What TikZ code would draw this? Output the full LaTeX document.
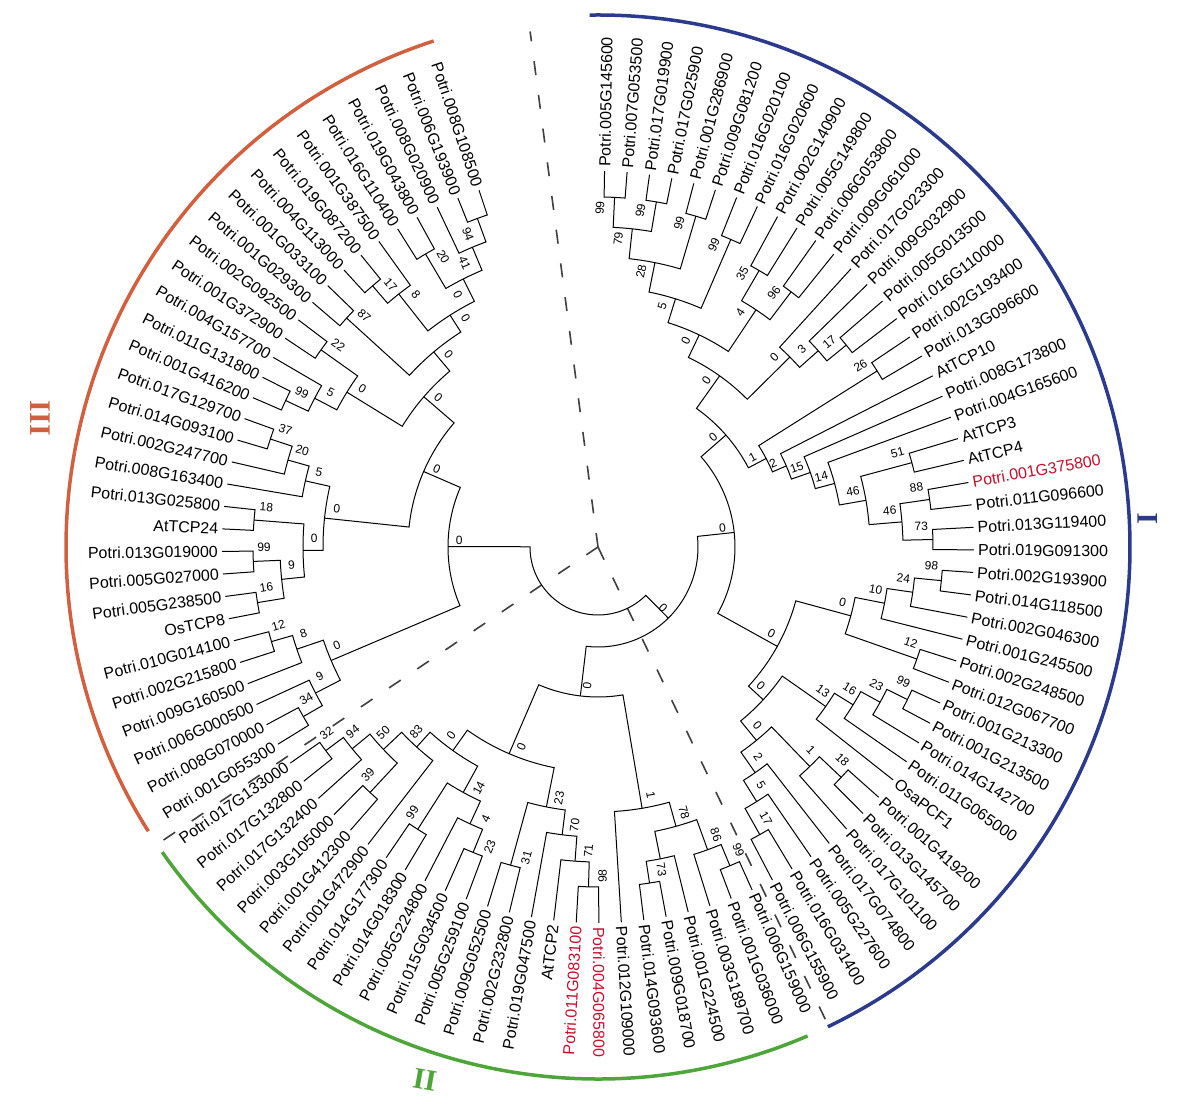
\documentclass[tikz,border=0pt]{standalone}
\usepackage{fontspec}
\setmainfont{Liberation Sans}
\newfontfamily\romanfont{Liberation Serif}
\definecolor{cI}{HTML}{2B3A8C}
\definecolor{cII}{HTML}{4EA53A}
\definecolor{cIII}{HTML}{D2603F}
\definecolor{redlab}{HTML}{C8102E}
\newcounter{bsc}
\def\LT{376}
\def\LR{380}
\newcommand\leaf[3][black]{%
 \pgfmathsetmacro\myA{89-(#2-1)*3.44}%
 \pgfmathtruncatemacro\isleft{cos(\myA)<0}%
 \ifnum\isleft=1
   \pgfmathsetmacro\rt{\myA+180}%
   \node[lab,text=#1,anchor=east,rotate=\rt] (l#2) at (\myA:\LR pt) {#3};
 \else
   \node[lab,text=#1,anchor=west,rotate=\myA] (l#2) at (\myA:\LR pt) {#3};
 \fi}
\newcommand\K[6]{%
 \pgfmathsetmacro\myA{89-(#2-1)*3.44}%
 \pgfmathsetmacro\myB{89-(#4-1)*3.44}%
 \pgfmathsetmacro\myM{(\myA+\myB)/2}%
 \draw[br] (\myA:#3pt) -- (\myA:#1pt) arc[start angle=\myA, end angle=\myB, radius=#1pt] -- (\myB:#5pt);%
 \def\tmp{#6}\ifx\tmp\empty\else
  \stepcounter{bsc}%
  \pgfmathtruncatemacro\isleft{cos(\myM)<-0.5}%
  \pgfmathsetmacro\rt{cos(\myM)<0 ? \myM+180 : \myM}%
  \ifnum\isleft=1 \pgfmathsetmacro\pa{\myM-2.4}\else\pgfmathsetmacro\pa{\myM+2.4}\fi
  \pgfmathsetmacro\pr{#1-11}%
  \node[bsn,rotate=\rt] (b\thebsc) at (\pa:\pr pt) {#6};%
 \fi}
\begin{document}
\begin{tikzpicture}[
  lab/.style={font=\fontsize{16}{17}\selectfont, inner sep=0pt},
  bsn/.style={font=\fontsize{12}{13}\selectfont, inner sep=0pt},
  br/.style={line width=1pt, black},
  bigarc/.style={line width=3.5pt},
  dsh/.style={line width=1.6pt, black!75, dash pattern=on 14pt off 20pt},
  rom/.style={font=\romanfont\bfseries\fontsize{30}{30}\selectfont}]
\fill[white] (-598pt,-568pt) rectangle (602pt,547pt);
\useasboundingbox (-598pt,-568pt) rectangle (602pt,547pt);
\coordinate (ctr) at (0,0);
% dashed separators
\coordinate (d1) at (97.5:520pt);
\coordinate (d2) at (214:525pt);
\coordinate (d3) at (-64.3:525pt);
\draw[dsh] (ctr) -- (d1);
\draw[dsh] (ctr) -- (d2);
\draw[dsh] (ctr) -- (d3);
% clade arcs
\draw[bigarc,cI] (90.9:532pt) arc[start angle=90.9, end angle=-64.4, radius=532pt];
\draw[bigarc,cII] (-66.8:532pt) arc[start angle=-66.8, end angle=-145, radius=532pt];
\draw[bigarc,cIII] (-147.7:532pt) arc[start angle=-147.7, end angle=-252, radius=532pt];
\node[rom,text=cI,rotate=90] (rI) at (3:550pt) {I};
\node[rom,text=cII,rotate=-10] (rII) at (-108:560pt) {II};
\node[rom,text=cIII,rotate=-90] (rIII) at (167:572pt) {III};
% root
\K{68}{40.05}{100}{79.25}{150}{}
\K{100}{25.1}{137}{55}{150}{0}
% clade I
\K{137}{14.9}{170}{35.3}{205}{0}
\K{350}{1}{\LT}{2}{\LT}{99}
\K{350}{3}{\LT}{4}{\LT}{99}
\K{320}{1.5}{350}{3.5}{350}{79}
\K{345}{5}{\LT}{6}{\LT}{99}
\K{290}{2.5}{320}{5.5}{345}{28}
\K{335}{7}{\LT}{8}{\LT}{99}
\K{260}{4}{290}{7.5}{335}{5}
\K{320}{9}{\LT}{10}{\LT}{35}
\K{320}{11}{\LT}{12}{\LT}{96}
\K{285}{9.5}{320}{11.5}{320}{4}
\K{235}{5.75}{260}{10.5}{285}{0}
\K{320}{15}{\LT}{16}{\LT}{17}
\K{295}{14}{\LT}{15.5}{320}{3}
\K{270}{13}{\LT}{14.75}{295}{0}
\K{210}{8.125}{235}{13.875}{270}{0}
\K{330}{17}{\LT}{18}{\LT}{26}
\K{325}{22}{\LT}{23}{\LT}{51}
\K{335}{24}{\LT}{25}{\LT}{88}
\K{335}{26}{\LT}{27}{\LT}{73}
\K{305}{24.5}{335}{26.5}{335}{46}
\K{272}{22.5}{325}{25.5}{305}{46}
\K{245}{21}{\LT}{24}{272}{14}
\K{225}{20}{\LT}{22.5}{245}{15}
\K{205}{19}{\LT}{21.25}{225}{2}
\K{190}{17.5}{330}{20.1}{205}{1}
\K{170}{11}{210}{18.8}{190}{0}
\K{345}{28}{\LT}{29}{\LT}{98}
\K{318}{28.5}{345}{30}{\LT}{24}
\K{292}{29.25}{318}{31}{\LT}{10}
\K{338}{32}{\LT}{33}{\LT}{12}
\K{262}{30.1}{292}{32.5}{338}{0}
\K{345}{34}{\LT}{35}{\LT}{99}
\K{322}{34.5}{345}{36}{\LT}{23}
\K{300}{35.25}{322}{37}{\LT}{16}
\K{278}{36.1}{300}{38}{\LT}{13}
\K{335}{39}{\LT}{40}{\LT}{18}
\K{305}{39.5}{335}{41}{\LT}{1}
\K{330}{44}{\LT}{45}{\LT}{17}
\K{300}{43}{\LT}{44.5}{330}{5}
\K{275}{42}{\LT}{43.75}{300}{2}
\K{250}{40.25}{305}{42.9}{275}{0}
\K{225}{37.05}{278}{41.6}{250}{0}
\K{205}{31.3}{262}{39.3}{225}{0}
% clade II
\K{150}{50.25}{265}{59.8}{225}{0}
\K{345}{46}{\LT}{47}{\LT}{99}
\K{322}{46.5}{345}{48}{\LT}{86}
\K{340}{50}{\LT}{51}{\LT}{73}
\K{318}{49}{\LT}{50.5}{340}{}
\K{290}{47.25}{322}{49.75}{318}{78}
\K{265}{48.5}{290}{52}{\LT}{1}
\K{340}{53}{\LT}{54}{\LT}{98}
\K{315}{53.5}{340}{55}{\LT}{71}
\K{290}{54.25}{315}{56}{\LT}{70}
\K{330}{57}{\LT}{58}{\LT}{31}
\K{265}{55.1}{290}{57.5}{330}{23}
\K{330}{59}{\LT}{60}{\LT}{23}
\K{305}{59.5}{330}{61}{\LT}{4}
\K{335}{62}{\LT}{63}{\LT}{99}
\K{280}{60.25}{305}{62.5}{335}{14}
\K{335}{65}{\LT}{66}{\LT}{39}
\K{340}{68}{\LT}{69}{\LT}{32}
\K{318}{67}{\LT}{68.5}{340}{94}
\K{295}{65.5}{335}{67.75}{318}{50}
\K{270}{64}{\LT}{66.6}{295}{83}
\K{250}{61.4}{280}{65.3}{270}{0}
\K{225}{56.3}{265}{63.35}{250}{0}
% clade III
\K{150}{72.5}{290}{86}{190}{0}
\K{340}{70}{\LT}{71}{\LT}{34}
\K{318}{70.5}{340}{72}{\LT}{9}
\K{340}{74}{\LT}{75}{\LT}{12}
\K{318}{73}{\LT}{74.5}{340}{8}
\K{290}{71.25}{318}{73.75}{318}{0}
\K{345}{76}{\LT}{77}{\LT}{16}
\K{345}{78}{\LT}{79}{\LT}{99}
\K{318}{76.5}{345}{78.5}{345}{9}
\K{345}{80}{\LT}{81}{\LT}{18}
\K{295}{77.5}{318}{80.5}{345}{0}
\K{345}{84}{\LT}{85}{\LT}{37}
\K{322}{83}{\LT}{84.5}{345}{20}
\K{300}{82}{\LT}{83.75}{322}{5}
\K{275}{79}{295}{82.9}{300}{0}
\K{345}{86}{\LT}{87}{\LT}{99}
\K{320}{86.5}{345}{88}{\LT}{5}
\K{340}{89}{\LT}{90}{\LT}{22}
\K{295}{87.25}{320}{89.5}{340}{0}
\K{340}{91}{\LT}{92}{\LT}{87}
\K{345}{93}{\LT}{94}{\LT}{17}
\K{322}{93.5}{345}{95}{\LT}{8}
\K{340}{96}{\LT}{97}{\LT}{20}
\K{350}{99}{\LT}{100}{\LT}{94}
\K{325}{98}{\LT}{99.5}{350}{41}
\K{300}{96.5}{340}{98.75}{325}{0}
\K{275}{94.25}{322}{97.6}{300}{0}
\K{255}{91.5}{340}{95.9}{275}{0}
\K{230}{88.4}{295}{93.7}{255}{0}
\K{190}{80.95}{275}{91.05}{230}{0}
% leaves
\leaf{1}{Potri.005G145600}
\leaf{2}{Potri.007G053500}
\leaf{3}{Potri.017G019900}
\leaf{4}{Potri.017G025900}
\leaf{5}{Potri.001G286900}
\leaf{6}{Potri.009G081200}
\leaf{7}{Potri.016G020100}
\leaf{8}{Potri.016G020600}
\leaf{9}{Potri.002G140900}
\leaf{10}{Potri.005G149800}
\leaf{11}{Potri.006G053800}
\leaf{12}{Potri.009G061000}
\leaf{13}{Potri.017G023300}
\leaf{14}{Potri.009G032900}
\leaf{15}{Potri.005G013500}
\leaf{16}{Potri.016G110000}
\leaf{17}{Potri.002G193400}
\leaf{18}{Potri.013G096600}
\leaf{19}{AtTCP10}
\leaf{20}{Potri.008G173800}
\leaf{21}{Potri.004G165600}
\leaf{22}{AtTCP3}
\leaf{23}{AtTCP4}
\leaf[redlab]{24}{Potri.001G375800}
\leaf{25}{Potri.011G096600}
\leaf{26}{Potri.013G119400}
\leaf{27}{Potri.019G091300}
\leaf{28}{Potri.002G193900}
\leaf{29}{Potri.014G118500}
\leaf{30}{Potri.002G046300}
\leaf{31}{Potri.001G245500}
\leaf{32}{Potri.002G248500}
\leaf{33}{Potri.012G067700}
\leaf{34}{Potri.001G213300}
\leaf{35}{Potri.001G213500}
\leaf{36}{Potri.014G142700}
\leaf{37}{Potri.011G065000}
\leaf{38}{OsaPCF1}
\leaf{39}{Potri.001G419200}
\leaf{40}{Potri.013G145700}
\leaf{41}{Potri.017G101100}
\leaf{42}{Potri.017G074800}
\leaf{43}{Potri.005G227600}
\leaf{44}{Potri.016G031400}
\leaf{45}{Potri.006G155900}
\leaf{46}{Potri.006G159000}
\leaf{47}{Potri.001G036000}
\leaf{48}{Potri.003G189700}
\leaf{49}{Potri.001G224500}
\leaf{50}{Potri.009G018700}
\leaf{51}{Potri.014G093600}
\leaf{52}{Potri.012G109000}
\leaf[redlab]{53}{Potri.004G065800}
\leaf[redlab]{54}{Potri.011G083100}
\leaf{55}{AtTCP2}
\leaf{56}{Potri.019G047500}
\leaf{57}{Potri.002G232800}
\leaf{58}{Potri.009G052500}
\leaf{59}{Potri.005G259100}
\leaf{60}{Potri.015G034500}
\leaf{61}{Potri.005G224800}
\leaf{62}{Potri.014G018300}
\leaf{63}{Potri.014G177300}
\leaf{64}{Potri.001G472900}
\leaf{65}{Potri.001G412300}
\leaf{66}{Potri.003G105000}
\leaf{67}{Potri.017G132400}
\leaf{68}{Potri.017G132800}
\leaf{69}{Potri.017G133000}
\leaf{70}{Potri.001G055300}
\leaf{71}{Potri.008G070000}
\leaf{72}{Potri.006G000500}
\leaf{73}{Potri.009G160500}
\leaf{74}{Potri.002G215800}
\leaf{75}{Potri.010G014100}
\leaf{76}{OsTCP8}
\leaf{77}{Potri.005G238500}
\leaf{78}{Potri.005G027000}
\leaf{79}{Potri.013G019000}
\leaf{80}{AtTCP24}
\leaf{81}{Potri.013G025800}
\leaf{82}{Potri.008G163400}
\leaf{83}{Potri.002G247700}
\leaf{84}{Potri.014G093100}
\leaf{85}{Potri.017G129700}
\leaf{86}{Potri.001G416200}
\leaf{87}{Potri.011G131800}
\leaf{88}{Potri.004G157700}
\leaf{89}{Potri.001G372900}
\leaf{90}{Potri.002G092500}
\leaf{91}{Potri.001G029300}
\leaf{92}{Potri.001G033100}
\leaf{93}{Potri.004G113000}
\leaf{94}{Potri.019G087200}
\leaf{95}{Potri.001G387500}
\leaf{96}{Potri.016G110400}
\leaf{97}{Potri.019G043800}
\leaf{98}{Potri.008G020900}
\leaf{99}{Potri.006G193900}
\leaf{100}{Potri.008G108500}
\end{tikzpicture}
\end{document}
